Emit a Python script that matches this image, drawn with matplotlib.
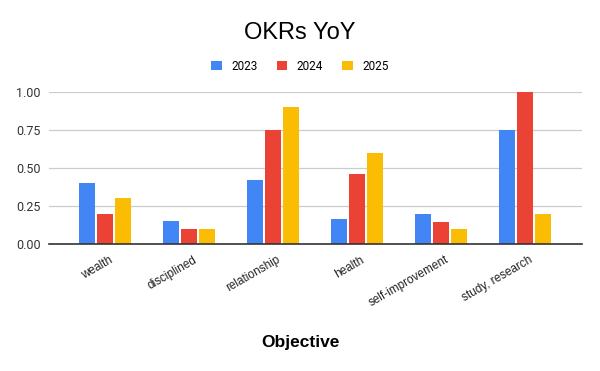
import numpy as np
import matplotlib.pyplot as plt

categories = ["wealth", "disciplined", "relationship", "health", "self-improvement", "study, research"]
years = ["2023", "2024", "2025"]
v2023 = [0.40, 0.15, 0.42, 0.165, 0.20, 0.75]
v2024 = [0.20, 0.10, 0.75, 0.46, 0.145, 1.00]
v2025 = [0.30, 0.10, 0.90, 0.60, 0.10, 0.20]
colors = ["#4285F4", "#EA4335", "#FBBC04"]

plt.rcParams['font.family'] = ['Liberation Sans', 'DejaVu Sans']

fig = plt.figure(figsize=(6, 3.71), dpi=100)
ax = fig.add_axes([49 / 600, 1 - 244 / 371, 533 / 600, 152 / 371])

x = np.arange(len(categories))
w = 0.19
step = 0.214
for i, (vals, yr) in enumerate(zip([v2023, v2024, v2025], years)):
    ax.bar(x + (i - 1) * step, vals, width=w, color=colors[i], label=yr, zorder=3)

ax.set_xlim(-0.67, 5.68)
ax.set_ylim(0, 1.0)
ax.set_yticks([0, 0.25, 0.5, 0.75, 1.0])
ax.set_yticklabels(["0.00", "0.25", "0.50", "0.75", "1.00"], fontsize=9, color="#333333",
                   family=['Roboto', 'DejaVu Sans'])
ax.yaxis.grid(True, color="#cccccc", linewidth=0.9, zorder=0)
ax.tick_params(axis='y', length=0, pad=6)
ax.set_xticks(x + 0.04)
ax.set_xticklabels(categories, rotation=30, ha='right', rotation_mode='anchor', fontsize=8.5, color="#222222")
ax.tick_params(axis='x', length=0, pad=7)
for s in ["top", "right", "left"]:
    ax.spines[s].set_visible(False)
ax.spines["bottom"].set_color("#333333")
ax.spines["bottom"].set_linewidth(1.2)
ax.spines["bottom"].set_zorder(4)

fig.text(0.5, 1 - 33 / 371, "OKRs YoY", ha='center', va='center', fontsize=17, color="#000000")
fig.text(0.5, 1 - 342 / 371, "Objective", ha='center', va='center', fontsize=12.5, fontweight='bold', color="#000000")
fig.legend(loc='center', bbox_to_anchor=(0.5, 1 - 66 / 371), ncol=3, frameon=False,
           prop={'family': ['Roboto', 'DejaVu Sans'], 'size': 8.5},
           handlelength=0.9, handleheight=0.9, columnspacing=1.6, handletextpad=0.8)

fig.savefig("out.png", dpi=100)
